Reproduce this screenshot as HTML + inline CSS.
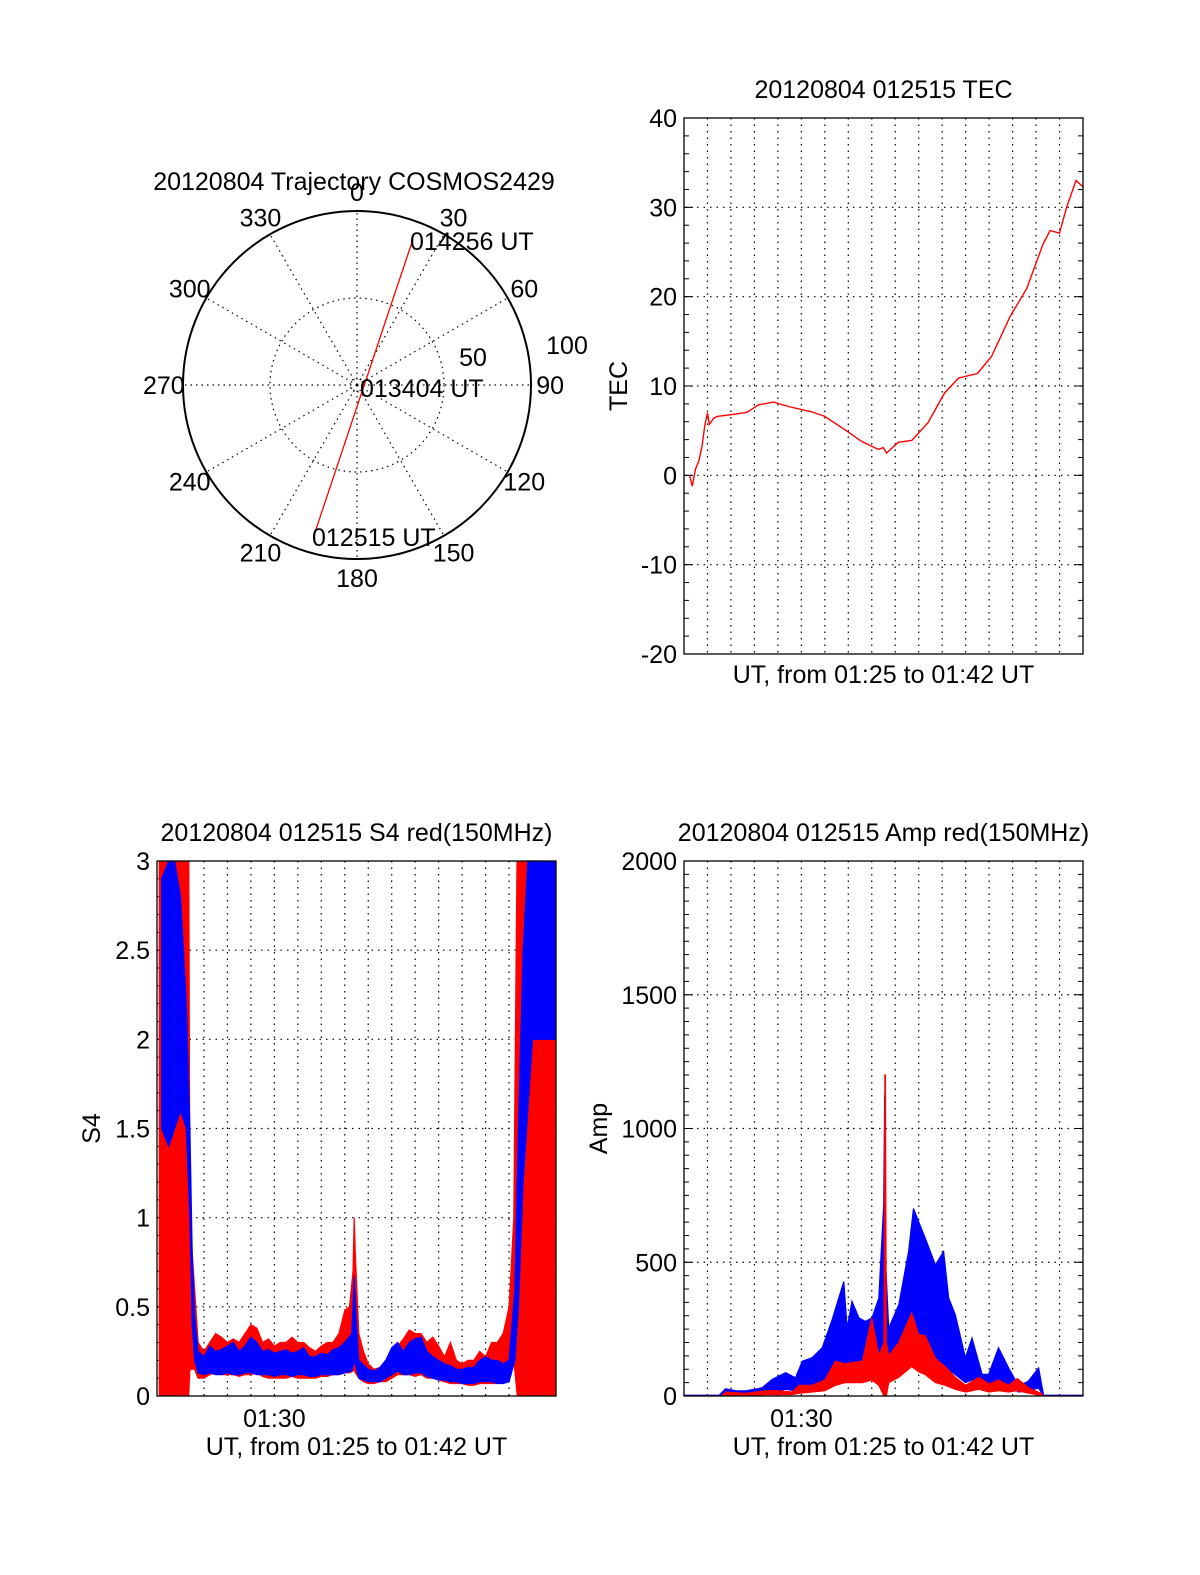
<!DOCTYPE html>
<html><head><meta charset="utf-8">
<style>
html,body{margin:0;padding:0;background:#fff;}
svg{display:block;font-family:"Liberation Sans",sans-serif;}
text{fill:#000;}
</style></head>
<body>
<svg id="root" width="1200" height="1575" viewBox="0 0 1200 1575" xmlns="http://www.w3.org/2000/svg">
<defs>
<clipPath id="clipTec"><rect x="684" y="118" width="399" height="536"/></clipPath>
<clipPath id="clipS4"><rect x="157" y="861" width="399" height="535"/></clipPath>
<clipPath id="clipAmp"><rect x="684" y="861" width="399" height="535"/></clipPath>
</defs>
<g id="polar"></g>
<g id="tec"></g>
<g id="s4"></g>
<g id="amp"></g>
</svg>
<script>
// ---------- data ----------
var polarAz = [195.9, 193.2, 170.4, 90, 39.7, 23.4, 21];
var polarZen = [87.1, 43, 8.4, 4.2, 11, 45.8, 89.9];
var polarAngleLabels = ["0","30","60","90","120","150","180","210","240","270","300","330"];

var tecT = [0.24,0.35,0.49,0.63,0.77,0.88,1.0,1.08,1.27,1.41,2.04,2.68,3.18,3.82,4.45,5.45,6.0,6.86,7.57,8.28,8.49,8.63,9.13,9.7,10.4,11.1,11.7,12.5,13.1,13.9,14.6,15.3,15.6,16.0,16.3,16.7,17.0];
var tecV = [0,-1.2,0.7,1.6,3.3,5.5,7.0,5.7,6.4,6.6,6.8,7.06,7.9,8.2,7.7,7.1,6.6,5.1,3.8,2.9,3.1,2.5,3.7,3.9,5.9,9.2,10.9,11.4,13.3,17.8,20.9,25.9,27.4,27.1,30.0,33.0,32.3];
var tecTicks = [40,30,20,10,0,-10,-20];

var s4RedT = [0.1,1.35,1.4,1.6,1.75,2,2.25,2.5,2.75,3,3.25,3.5,3.75,4,4.25,4.5,4.75,5,5.25,5.5,5.75,6,6.25,6.5,6.75,7,7.25,7.5,7.75,8,8.2,8.35,8.4,8.45,8.6,8.8,9,9.25,9.5,9.75,10,10.25,10.5,10.75,11,11.25,11.5,11.75,12,12.25,12.5,12.75,13,13.25,13.5,13.75,14,14.25,14.5,14.75,15,15.2,15.35,15.4,16.95];
var s4RedHi = [3.2,3.2,1.0,0.6,0.3,0.25,0.3,0.35,0.33,0.3,0.32,0.3,0.35,0.4,0.38,0.3,0.32,0.28,0.3,0.3,0.33,0.3,0.3,0.27,0.25,0.28,0.3,0.3,0.35,0.48,0.5,0.7,1.0,0.8,0.35,0.25,0.18,0.15,0.16,0.2,0.25,0.28,0.32,0.37,0.35,0.35,0.3,0.33,0.28,0.22,0.3,0.2,0.18,0.2,0.2,0.25,0.22,0.3,0.3,0.35,0.5,1.0,3.2,3.2,3.2];
var s4RedLo = [0,0,0.15,0.15,0.1,0.1,0.12,0.13,0.12,0.12,0.12,0.11,0.12,0.12,0.13,0.11,0.1,0.1,0.1,0.1,0.11,0.1,0.1,0.1,0.1,0.11,0.11,0.12,0.12,0.13,0.13,0.14,0.15,0.13,0.1,0.08,0.07,0.07,0.08,0.08,0.1,0.12,0.12,0.12,0.11,0.12,0.1,0.1,0.09,0.08,0.07,0.07,0.07,0.06,0.06,0.07,0.07,0.07,0.07,0.08,0.1,0.2,0,0,0];
var s4BlueT = [0.2,0.5,0.75,1,1.25,1.4,1.5,1.6,1.75,2,2.25,2.5,2.75,3,3.25,3.5,3.75,4,4.25,4.5,4.75,5,5.25,5.5,5.75,6,6.25,6.5,6.75,7,7.25,7.5,7.75,8,8.3,8.4,8.5,8.6,9,9.25,9.5,9.75,10,10.25,10.5,10.75,11,11.25,11.5,11.75,12,12.25,12.5,12.75,13,13.25,13.5,13.75,14,14.25,14.5,14.75,15,15.25,15.4,15.6,15.8,16,16.5,17];
var s4BlueHi = [2.9,3.0,3.0,2.8,2.2,1.5,0.8,0.45,0.25,0.22,0.28,0.25,0.26,0.28,0.3,0.25,0.28,0.33,0.3,0.25,0.26,0.24,0.25,0.26,0.24,0.25,0.27,0.22,0.22,0.24,0.23,0.26,0.27,0.3,0.35,0.67,0.4,0.2,0.15,0.14,0.16,0.2,0.27,0.3,0.25,0.3,0.32,0.33,0.25,0.22,0.2,0.18,0.17,0.15,0.15,0.16,0.16,0.2,0.22,0.2,0.2,0.18,0.2,0.6,1.5,2.5,3.0,3.2,3.2,3.2];
var s4BlueLo = [1.5,1.4,1.5,1.6,1.5,1.0,0.4,0.2,0.13,0.12,0.13,0.12,0.12,0.13,0.12,0.12,0.13,0.13,0.12,0.12,0.12,0.11,0.12,0.12,0.11,0.12,0.12,0.11,0.11,0.12,0.12,0.12,0.12,0.13,0.14,0.2,0.15,0.1,0.08,0.08,0.08,0.1,0.12,0.14,0.12,0.12,0.13,0.13,0.11,0.1,0.09,0.09,0.08,0.08,0.07,0.07,0.07,0.08,0.08,0.08,0.07,0.07,0.08,0.2,0.5,1.2,1.6,2.0,2.0,2.0];
var s4Ticks = [3,2.5,2,1.5,1,0.5,0];
var s4TickLabels = ["3","2.5","2","1.5","1","0.5","0"];

var ampBlueT = [0,1.5,1.77,2.2,2.62,3.0,3.33,3.76,4.33,4.75,5.04,5.46,5.89,6.31,6.81,6.95,7.16,7.45,7.73,8.01,8.3,8.51,8.55,8.57,8.59,8.72,9.15,9.57,9.78,10.0,10.28,10.71,11.06,11.28,11.56,11.99,12.27,12.7,12.98,13.4,13.83,14.26,14.68,15.11,15.32,17];
var ampBlueHi = [3,3,27,20,19,25,31,62,87,68,130,143,180,285,428,254,354,292,279,292,366,713,1123,1123,500,254,341,540,701,651,589,490,540,366,304,143,217,81,81,180,105,37,56,105,3,3];
var ampBlueLo = [0,0,5,5,5,8,10,15,25,20,35,45,55,80,110,80,100,90,80,90,100,200,300,200,100,80,120,150,200,180,160,130,120,100,80,50,60,30,30,60,35,15,20,30,0,0];
var ampRedT = [0,1.6,1.77,2.6,3.5,4.0,4.6,4.9,5.46,6.0,6.45,6.88,7.16,7.6,8.0,8.3,8.52,8.56,8.58,8.62,8.72,9.15,9.7,10.0,10.28,10.71,11.13,11.56,12.0,12.56,13.0,13.4,13.83,14.2,14.7,15.2,15.35,17];
var ampRedHi = [0,0,15,10,20,20,15,40,40,60,130,120,125,130,290,150,200,1200,1200,200,150,200,310,230,225,140,110,70,40,70,45,60,40,65,30,10,0,0];
var ampRedLo = [0,0,3,3,5,5,5,10,15,20,40,50,50,50,60,40,0,0,0,0,50,70,110,90,80,50,40,25,15,25,15,20,15,20,10,3,0,0];
var ampTicks = [2000,1500,1000,500,0];

// ---------- helpers ----------
var NS = "http://www.w3.org/2000/svg";
var FS = 25;
function mk(tag, attrs, parent, txt){
  var e = document.createElementNS(NS, tag);
  for (var k in attrs) e.setAttribute(k, attrs[k]);
  if (txt !== undefined) e.textContent = txt;
  parent.appendChild(e);
  return e;
}
function linScale(d0,d1,r0,r1){ return function(v){ return r0 + (v-d0)/(d1-d0)*(r1-r0); }; }

function axesFrame(g, box, yTicks, yLabels, yMinorStep, yMin, yMax, title, ylab, ylabOff, xlabShow, name){
  var x = linScale(0,17,box.x0,box.x1);
  var y = linScale(yMin,yMax,box.y1,box.y0);
  for (var m=1;m<17;m++){
    var gl = mk('line',{x1:x(m),x2:x(m),y1:box.y0,y2:box.y1,stroke:'#000','stroke-width':1.2,'stroke-dasharray':'1.5,5'},g);
    
    
  }
  for (var i=0;i<yTicks.length;i++){
    var yy = y(yTicks[i]);
    if (yTicks[i]!==yMin && yTicks[i]!==yMax){
      var hl = mk('line',{x1:box.x0,x2:box.x1,y1:yy,y2:yy,stroke:'#000','stroke-width':1.2,'stroke-dasharray':'1.5,5'},g);
      
      
    }
    var tl = mk('text',{x:box.x0-7,y:yy+9,'font-size':FS,'text-anchor':'end'},g,yLabels[i]);
    
    
    mk('line',{x1:box.x0,x2:box.x0+9,y1:yy,y2:yy,stroke:'#000','stroke-width':1},g);
    mk('line',{x1:box.x1,x2:box.x1-9,y1:yy,y2:yy,stroke:'#000','stroke-width':1},g);
  }
  for (var v=yMin; v<=yMax+1e-9; v+=yMinorStep){
    var yy2 = y(v);
    mk('line',{x1:box.x0,x2:box.x0+5,y1:yy2,y2:yy2,stroke:'#000','stroke-width':1},g);
    mk('line',{x1:box.x1,x2:box.x1-5,y1:yy2,y2:yy2,stroke:'#000','stroke-width':1},g);
  }
  var t = mk('text',{x:(box.x0+box.x1)/2,y:box.y0-20,'font-size':FS,'text-anchor':'middle'},g,title);
  
  
  var yl = mk('text',{x:0,y:0,'font-size':FS,'text-anchor':'middle',transform:'translate('+(box.x0-ylabOff)+','+((box.y0+box.y1)/2)+') rotate(-90)'},g,ylab);
  
  
  var xl = mk('text',{x:(box.x0+box.x1)/2,y:box.y1 + (xlabShow?59:29),'font-size':FS,'text-anchor':'middle'},g,'UT, from 01:25 to 01:42 UT');
  
  
  if (xlabShow){
    var xt = mk('text',{x:x(5),y:box.y1+31,'font-size':FS,'text-anchor':'middle'},g,'01:30');
    
    
  }
  return {x:x,y:y};
}
function frameRect(g, box, name){
  var r = mk('rect',{x:box.x0,y:box.y0,width:box.x1-box.x0,height:box.y1-box.y0,fill:'none',stroke:'#000','stroke-width':1.3},g);
  
  
}
function band(g, sc, T, hi, lo, color, clip, name){
  var pts = [];
  for (var i=0;i<T.length;i++) pts.push(sc.x(T[i]).toFixed(1)+','+sc.y(hi[i]).toFixed(1));
  for (var j=T.length-1;j>=0;j--) pts.push(sc.x(T[j]).toFixed(1)+','+sc.y(lo[j]).toFixed(1));
  var p = mk('polygon',{points:pts.join(' '),fill:color,stroke:color,'stroke-width':1.2,'clip-path':'url(#'+clip+')'},g);
  
  
}

// ---------- polar ----------
(function(){
  var g = document.getElementById('polar');
  var cx=357, cy=385, R=174;
  function rr(z){ return z/100*R; }
  function pt(az,z){ var a=az*Math.PI/180; return [cx+rr(z)*Math.sin(a), cy-rr(z)*Math.cos(a)]; }
  for (var k=0;k<12;k++){
    var e = pt(k*30,100);
    var sp = mk('line',{x1:cx,y1:cy,x2:e[0],y2:e[1],stroke:'#000','stroke-width':1.2,'stroke-dasharray':'1.5,4'},g);
    
    
    var lp = pt(k*30,111);
    var lt = mk('text',{x:lp[0],y:lp[1]+9,'font-size':FS,'text-anchor':'middle'},g,polarAngleLabels[k]);
    
    
  }
  var c1 = mk('circle',{cx:cx,cy:cy,r:rr(50),fill:'none',stroke:'#000','stroke-width':1.2,'stroke-dasharray':'1.5,4'},g);
  
  
  mk('circle',{cx:cx,cy:cy,r:7,fill:'none',stroke:'#000','stroke-width':1,'stroke-dasharray':'1.5,3'},g);
  var c2 = mk('circle',{cx:cx,cy:cy,r:R,fill:'none',stroke:'#000','stroke-width':2},g);
  
  
  var pts=[];
  for (var i=0;i<polarAz.length;i++){ var p=pt(polarAz[i],polarZen[i]); pts.push(p[0].toFixed(1)+','+p[1].toFixed(1)); }
  var tr = mk('polyline',{points:pts.join(' '),fill:'none',stroke:'#f00','stroke-width':1.3},g);
  
  
  var labs = [["20120804 Trajectory COSMOS2429",354,190,'middle','polar-title'],["50",473,366,'middle','radius-label-50'],["100",567,354,'middle','radius-label-100'],
              ["014256 UT",410,250,'start','end-time-label'],["013404 UT",360,397,'start','mid-time-label'],["012515 UT",312,546,'start','start-time-label']];
  labs.forEach(function(l){
    var t = mk('text',{x:l[1],y:l[2],'font-size':FS,'text-anchor':l[3]},g,l[0]);
    
    
  });
})();

// ---------- TEC ----------
(function(){
  var g = document.getElementById('tec');
  var box = {x0:684,x1:1083,y0:118,y1:654};
  var sc = axesFrame(g, box, tecTicks, tecTicks.map(String), 2, -20, 40, '20120804 012515 TEC', 'TEC', 57, false, 'tec');
  var pts = tecT.map(function(t,i){ return sc.x(t).toFixed(1)+','+sc.y(tecV[i]).toFixed(1); });
  var l = mk('polyline',{points:pts.join(' '),fill:'none',stroke:'#f00','stroke-width':1.4,'clip-path':'url(#clipTec)'},g);
  
  
  frameRect(g, box, 'tec');
})();

// ---------- S4 ----------
(function(){
  var g = document.getElementById('s4');
  var box = {x0:157,x1:556,y0:861,y1:1396};
  var sc = axesFrame(g, box, s4Ticks, s4TickLabels, 0.1, 0, 3, '20120804 012515 S4 red(150MHz)', 'S4', 57, true, 's4');
  band(g, sc, s4RedT, s4RedHi, s4RedLo, '#f00', 'clipS4', 's4-red-series');
  band(g, sc, s4BlueT, s4BlueHi, s4BlueLo, '#00f', 'clipS4', 's4-blue-series');
  frameRect(g, box, 's4');
})();

// ---------- Amp ----------
(function(){
  var g = document.getElementById('amp');
  var box = {x0:684,x1:1083,y0:861,y1:1396};
  var sc = axesFrame(g, box, ampTicks, ampTicks.map(String), 50, 0, 2000, '20120804 012515 Amp red(150MHz)', 'Amp', 77, true, 'amp');
  band(g, sc, ampBlueT, ampBlueHi, ampBlueLo, '#00f', 'clipAmp', 'amp-blue-series');
  band(g, sc, ampRedT, ampRedHi, ampRedLo, '#f00', 'clipAmp', 'amp-red-series');
  frameRect(g, box, 'amp');
})();
</script>
</body></html>
